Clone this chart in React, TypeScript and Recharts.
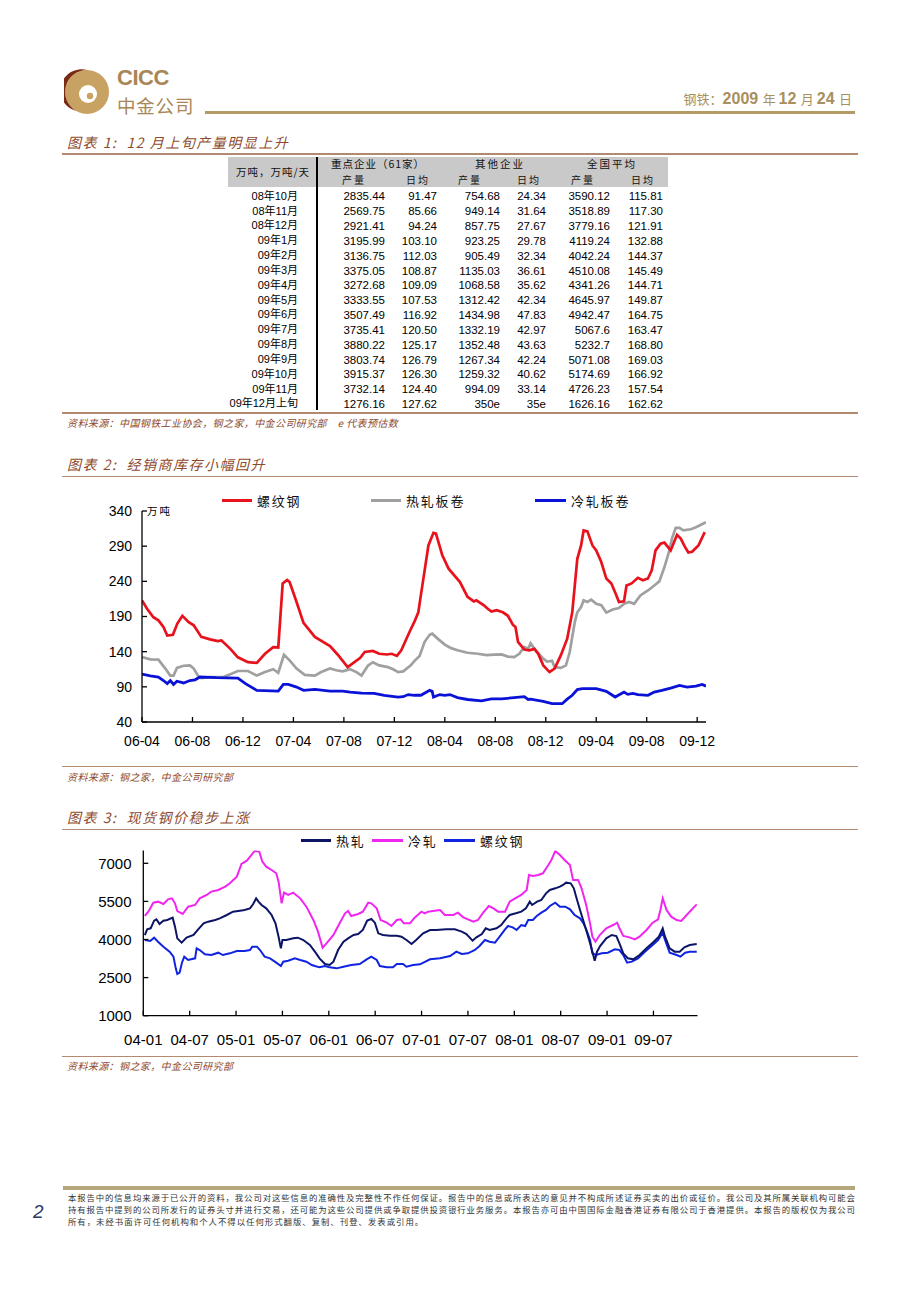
import React from "react";
import { LineChart, Line, XAxis, YAxis } from "recharts";

const SANS = '"Liberation Sans", Arial, "Noto Sans CJK SC", sans-serif';
const CJK = '"Noto Sans CJK SC", "Liberation Sans", sans-serif';
const BROWN = "#8e4a2d";
const RULE = "#b28a70";
const GOLD = "#b39b68";

// ---- table 1 (万吨, 万吨/天) ----
const rowLabels = ["08年10月", "08年11月", "08年12月", "09年1月", "09年2月", "09年3月", "09年4月", "09年5月", "09年6月", "09年7月", "09年8月", "09年9月", "09年10月", "09年11月", "09年12月上旬"];
const keyOutput = ["2835.44", "2569.75", "2921.41", "3195.99", "3136.75", "3375.05", "3272.68", "3333.55", "3507.49", "3735.41", "3880.22", "3803.74", "3915.37", "3732.14", "1276.16"];
const keyDaily = ["91.47", "85.66", "94.24", "103.10", "112.03", "108.87", "109.09", "107.53", "116.92", "120.50", "125.17", "126.79", "126.30", "124.40", "127.62"];
const otherOutput = ["754.68", "949.14", "857.75", "923.25", "905.49", "1135.03", "1068.58", "1312.42", "1434.98", "1332.19", "1352.48", "1267.34", "1259.32", "994.09", "350e"];
const otherDaily = ["24.34", "31.64", "27.67", "29.78", "32.34", "36.61", "35.62", "42.34", "47.83", "42.97", "43.63", "42.24", "40.62", "33.14", "35e"];
const natOutput = ["3590.12", "3518.89", "3779.16", "4119.24", "4042.24", "4510.08", "4341.26", "4645.97", "4942.47", "5067.6", "5232.7", "5071.08", "5174.69", "4726.23", "1626.16"];
const natDaily = ["115.81", "117.30", "121.91", "132.88", "144.37", "145.49", "144.71", "149.87", "164.75", "163.47", "168.80", "169.03", "166.92", "157.54", "162.62"];

// ---- chart 2: dealer stocks, [months since 2006-04, 万吨] ----
const stockTicks = [0, 4, 8, 12, 16, 20, 24, 28, 32, 36, 40, 44];
const stockTickLabels = ["06-04", "06-08", "06-12", "07-04", "07-08", "07-12", "08-04", "08-08", "08-12", "09-04", "09-08", "09-12"];
const stockYTicks = [40, 90, 140, 190, 240, 290, 340];

const rebarStock: [number, number][] = [
  [0, 213], [0.4, 201], [0.9, 189], [1.3, 184.5], [1.7, 175], [2.0, 163], [2.45, 164], [2.8, 180], [3.2, 191], [3.7, 182],
  [4.1, 177.5], [4.7, 161], [5.4, 157.5], [6.0, 155], [6.3, 156], [7.0, 144], [7.6, 132], [8.4, 125], [9.1, 124], [9.75, 137],
  [10.4, 146.5], [10.8, 146], [11.15, 237], [11.5, 242], [11.7, 239], [12.25, 210.6], [12.8, 181], [13.7, 161], [14.9, 148], [15.5, 136],
  [16.3, 118], [17.3, 131.4], [17.65, 139.5], [18.3, 141], [18.8, 137], [19.4, 136], [19.8, 137], [20.2, 134], [20.55, 142], [21.2, 168],
  [21.6, 183], [21.9, 196], [22.1, 220], [22.7, 291], [23.1, 309], [23.3, 308], [23.8, 277], [24.3, 258], [25.2, 239], [25.8, 218],
  [26.3, 211.5], [26.5, 213], [27.1, 206], [27.4, 201], [27.7, 197], [28.1, 199], [28.6, 196], [29.0, 191], [29.4, 178], [29.6, 175],
  [29.8, 154], [30.3, 143], [30.7, 142], [31.1, 144], [31.4, 137], [31.8, 120.5], [32.3, 111], [32.7, 116], [33.2, 135], [33.7, 158.5],
  [34.1, 196], [34.5, 272], [34.8, 291], [35.0, 312.5], [35.3, 311], [35.7, 291], [36.0, 284], [36.4, 267.5], [36.8, 244], [37.2, 237],
  [37.6, 220], [37.8, 210.6], [38.2, 211.5], [38.4, 234], [38.8, 237], [39.3, 245], [39.7, 241.5], [40.1, 244], [40.4, 255.6], [40.7, 284],
  [41.1, 293.5], [41.4, 295], [41.9, 284], [42.4, 306], [42.7, 300.7], [43.0, 290], [43.3, 281], [43.6, 282], [44.1, 291], [44.6, 310],
];

const hotStock: [number, number][] = [
  [0, 132.4], [0.66, 129], [1.3, 128.6], [1.85, 116], [2.24, 106], [2.5, 106], [2.77, 117], [3.3, 120], [3.8, 120.5], [4.1, 116],
  [4.5, 104], [4.7, 102.5], [5.4, 104], [6.45, 104], [7.0, 108], [7.6, 112.5], [8.4, 112.5], [9.1, 106], [9.75, 111], [10.4, 115],
  [10.8, 110], [11.25, 135.6], [11.7, 127.6], [12.25, 116], [12.9, 107], [13.7, 106], [14.2, 111], [14.9, 116], [15.4, 113.5], [15.9, 112],
  [16.5, 115], [17.0, 111], [17.4, 106], [17.9, 120], [18.3, 125], [18.8, 120.5], [19.5, 118], [19.9, 115], [20.3, 111], [20.7, 112],
  [21.3, 120.5], [21.6, 127], [22.0, 134], [22.4, 154], [22.8, 164], [23.0, 165.6], [23.5, 157.5], [24.0, 150], [24.5, 145], [25.0, 142],
  [25.8, 138.5], [26.6, 137], [27.3, 135], [27.9, 135.7], [28.5, 136], [29.0, 133], [29.5, 132.4], [29.9, 137], [30.3, 146.6], [30.6, 144],
  [30.8, 152], [31.1, 144], [31.3, 139.5], [31.8, 130], [32.1, 126], [32.5, 127], [32.7, 118], [33.2, 117], [33.6, 120.5], [33.9, 139.5],
  [34.3, 182], [34.5, 196], [34.8, 203.5], [35.0, 213], [35.3, 210.6], [35.6, 214], [36.0, 208], [36.4, 206], [36.8, 195.5], [37.3, 200],
  [37.8, 202], [38.2, 208], [38.6, 210.6], [39.0, 208], [39.5, 220], [40.1, 227], [40.6, 234], [41.0, 240], [41.4, 260], [41.8, 284],
  [42.0, 300.7], [42.3, 316], [42.6, 316], [42.9, 312.5], [43.5, 314], [43.9, 317], [44.3, 320.5], [44.7, 324],
];

const coldStock: [number, number][] = [
  [0, 108], [0.66, 105.5], [1.3, 104], [1.7, 99], [2.0, 94.5], [2.24, 99], [2.5, 93.5], [2.77, 98], [3.3, 95.5], [3.8, 99],
  [4.2, 100], [4.6, 104], [5.9, 103], [7.6, 102.5], [8.2, 94.5], [9.1, 85], [10.8, 84], [11.2, 93.5], [11.6, 93.5], [12.25, 89.7],
  [12.8, 85], [13.7, 86.4], [14.9, 84], [15.9, 84], [16.5, 82.6], [17.4, 81], [18.4, 80.7], [19.2, 78], [20.3, 75.5], [20.7, 76],
  [21.1, 79], [21.6, 78], [22.1, 78], [22.8, 85], [23.0, 83.6], [23.1, 75.5], [23.6, 79], [24.0, 78], [24.4, 79], [25.0, 74.6],
  [25.8, 72], [26.9, 70], [27.7, 73], [28.5, 73], [29.5, 74.6], [30.3, 76], [30.6, 72], [30.8, 72.5], [31.8, 69.3], [32.5, 66],
  [33.3, 66], [33.7, 72.5], [34.1, 78], [34.5, 86], [34.9, 87.4], [36.0, 87.4], [36.8, 83.6], [37.5, 75.5], [38.2, 82.6], [38.5, 79.3],
  [38.9, 80.7], [39.3, 79], [40.1, 78], [40.6, 82.6], [41.2, 85], [41.9, 88.3], [42.6, 92], [43.2, 89.7], [43.9, 91], [44.4, 93.5], [44.7, 91],
];

// ---- chart 3: spot prices, [months since 2004-01, 元/吨] ----
const priceTicks = [0, 6, 12, 18, 24, 30, 36, 42, 48, 54, 60, 66];
const priceTickLabels = ["04-01", "04-07", "05-01", "05-07", "06-01", "06-07", "07-01", "07-07", "08-01", "08-07", "09-01", "09-07"];
const priceYTicks = [1000, 2500, 4000, 5500, 7000];

const hotPrice: [number, number][] = [
  [0.2, 4177], [0.5, 4400], [0.95, 4440], [1.4, 4742], [1.7, 4794], [2.1, 4610], [2.6, 4742], [3.1, 4768], [3.8, 4860], [4.1, 4505],
  [4.4, 4046], [4.96, 3875], [5.6, 4072], [6.5, 4177], [7.1, 4400], [7.8, 4637], [8.4, 4702], [9.3, 4768], [9.9, 4834], [10.8, 4965],
  [11.6, 5096], [12.5, 5135], [13.1, 5162], [13.8, 5227], [14.2, 5385], [14.6, 5621], [14.9, 5490], [15.3, 5359], [15.9, 5227], [16.6, 4965],
  [17.1, 4637], [17.5, 4111], [17.8, 3652], [18.0, 3980], [18.5, 3980], [19.4, 4046], [20.0, 4072], [20.7, 3980], [21.55, 3783], [22.2, 3521],
  [22.8, 3258], [23.5, 3035], [24.1, 2995], [24.6, 3127], [25.2, 3586], [25.9, 3914], [26.5, 4046], [27.2, 4177], [27.8, 4216], [28.4, 4374],
  [28.97, 4742], [29.5, 4807], [29.96, 4663], [30.4, 4243], [31.0, 4177], [31.9, 4151], [32.8, 4151], [33.4, 4111], [34.05, 3980], [34.7, 3822],
  [35.3, 3980], [36.2, 4243], [37.1, 4374], [37.9, 4374], [39.2, 4400], [40.3, 4400], [41.2, 4308], [41.8, 4216], [42.6, 3954], [43.1, 4085],
  [43.8, 4216], [44.3, 4440], [44.8, 4374], [45.7, 4440], [46.3, 4571], [46.98, 4834], [47.4, 4965], [48.2, 5031], [48.9, 5096], [49.5, 5227],
  [50.0, 5490], [50.3, 5359], [50.95, 5490], [51.5, 5556], [52.1, 5818], [52.6, 5950], [53.3, 6015], [53.9, 6081], [54.3, 6147], [54.7, 6238],
  [55.3, 6212], [55.7, 6015], [56.0, 5687], [56.5, 5162], [56.9, 4768], [57.3, 4374], [57.8, 3849], [58.1, 3521], [58.4, 3166], [58.7, 3521],
  [59.1, 3744], [59.9, 4046], [60.6, 4177], [61.2, 4138], [61.6, 3849], [62.1, 3455], [62.7, 3258], [63.4, 3219], [64.2, 3389], [65.1, 3652],
  [65.9, 3875], [66.7, 4111], [67.2, 4440], [67.5, 4111], [68.1, 3652], [68.75, 3521], [69.4, 3521], [70.0, 3691], [70.7, 3783], [71.6, 3822],
];

const coldPrice: [number, number][] = [
  [0.2, 4926], [0.65, 5096], [1.3, 5450], [1.9, 5490], [2.6, 5398], [3.2, 5582], [3.7, 5621], [4.1, 5424], [4.4, 5122], [5.1, 5004],
  [5.8, 5293], [6.7, 5359], [7.3, 5621], [8.2, 5753], [8.8, 5884], [9.7, 5950], [10.6, 6081], [11.2, 6212], [12.1, 6475], [12.7, 6974],
  [13.4, 7105], [14.0, 7328], [14.4, 7486], [15.0, 7460], [15.4, 7066], [15.9, 6869], [16.6, 6737], [17.2, 6606], [17.5, 6278], [17.9, 5424],
  [18.2, 5845], [18.75, 5753], [19.4, 5845], [20.3, 5621], [21.1, 5293], [22.0, 4768], [22.6, 4308], [23.2, 3678], [23.7, 3849], [24.6, 4177],
  [25.4, 4637], [26.1, 5031], [26.5, 5122], [26.9, 4926], [27.8, 5004], [28.4, 5096], [29.1, 5450], [29.5, 5424], [30.2, 5227], [30.7, 4768],
  [31.5, 4663], [32.1, 4532], [32.8, 4768], [33.3, 4794], [33.7, 4637], [34.5, 4637], [35.1, 4860], [35.99, 5096], [36.4, 5031], [36.85, 5096],
  [37.7, 5135], [38.4, 5162], [39.0, 4965], [40.1, 4965], [40.7, 5057], [41.4, 4873], [42.7, 4702], [43.3, 4768], [43.97, 5057], [44.7, 5319],
  [45.3, 5227], [45.9, 5096], [46.8, 5096], [47.4, 5490], [48.1, 5621], [48.9, 5753], [49.6, 5950], [49.9, 6540], [50.4, 6501], [51.1, 6540],
  [51.7, 6606], [52.4, 6934], [52.8, 7131], [53.3, 7486], [53.9, 7328], [54.5, 7131], [55.2, 6934], [55.6, 6344], [56.25, 6344], [56.7, 6015],
  [57.3, 5359], [57.8, 4637], [58.1, 4111], [58.5, 3914], [59.05, 4177], [59.9, 4440], [60.8, 4571], [61.3, 4663], [61.6, 4440], [62.1, 4138],
  [62.9, 4085], [63.6, 4006], [64.2, 4111], [65.1, 4374], [65.9, 4663], [66.6, 4794], [66.9, 5162], [67.2, 5621], [67.7, 5162], [68.3, 4900],
  [69.0, 4768], [69.6, 4729], [70.3, 4965], [71.1, 5227], [71.6, 5385],
];

const rebarPrice: [number, number][] = [
  [0.2, 3980], [0.9, 3941], [1.4, 4072], [1.9, 3914], [2.6, 3717], [3.4, 3521], [3.9, 3324], [4.2, 2864], [4.4, 2641], [4.7, 2694],
  [5.0, 3087], [5.3, 3324], [5.8, 3192], [6.7, 3258], [6.9, 3652], [7.3, 3586], [7.97, 3415], [8.8, 3389], [9.7, 3481], [10.3, 3389],
  [11.2, 3455], [12.1, 3547], [13.1, 3547], [13.8, 3586], [14.1, 3717], [14.7, 3717], [15.1, 3586], [15.7, 3324], [16.4, 3258], [17.2, 3087],
  [17.8, 2956], [18.1, 3127], [18.75, 3166], [19.6, 3258], [20.3, 3192], [21.1, 3127], [21.8, 2995], [22.2, 2956], [22.8, 2904], [23.5, 2956],
  [24.1, 2904], [25.0, 2864], [25.9, 2930], [26.9, 2995], [28.0, 3035], [28.9, 3219], [29.5, 3324], [30.2, 3192], [30.6, 2956], [31.5, 2904],
  [32.3, 2904], [32.8, 3035], [33.6, 3035], [34.05, 2930], [34.9, 2995], [35.8, 3022], [37.1, 3219], [38.4, 3258], [39.7, 3350], [40.5, 3521],
  [41.2, 3429], [42.0, 3455], [42.9, 3586], [43.5, 3744], [44.2, 3980], [44.8, 3914], [45.5, 3875], [46.1, 4111], [46.8, 4400], [47.2, 4532],
  [47.8, 4479], [48.3, 4374], [48.9, 4571], [49.4, 4532], [49.8, 4768], [50.4, 4768], [50.9, 4926], [51.5, 5057], [52.1, 5162], [52.6, 5319],
  [53.3, 5450], [53.9, 5293], [54.6, 5293], [55.2, 5188], [55.8, 4965], [56.5, 4834], [56.9, 4663], [57.3, 4400], [57.8, 3980], [58.1, 3455],
  [58.6, 3389], [59.3, 3455], [60.1, 3481], [61.0, 3612], [61.6, 3586], [62.1, 3389], [62.6, 3087], [63.2, 3127], [64.0, 3258], [64.9, 3521],
  [65.75, 3744], [66.6, 3980], [67.2, 4269], [67.5, 3980], [68.1, 3481], [69.0, 3389], [69.5, 3324], [70.1, 3481], [70.7, 3521], [71.6, 3521],
];

const disclaimer = [
  "本报告中的信息均来源于已公开的资料，我公司对这些信息的准确性及完整性不作任何保证。报告中的信息或所表达的意见并不构成所述证券买卖的出价或征价。我公司及其所属关联机构可能会",
  "持有报告中提到的公司所发行的证券头寸并进行交易，还可能为这些公司提供或争取提供投资银行业务服务。本报告亦可由中国国际金融香港证券有限公司于香港提供。本报告的版权仅为我公司",
  "所有，未经书面许可任何机构和个人不得以任何形式翻版、复制、刊登、发表或引用。",
];

const toRows = (pairs: [number, number][]) => pairs.map(([m, v]) => ({ m, v }));

const abs = (left: number, top: number, extra: React.CSSProperties = {}): React.CSSProperties => ({
  position: "absolute",
  left,
  top,
  ...extra,
});

function Rule({ top, color = RULE, h = 1.5, left = 62, width = 796 }: { top: number; color?: string; h?: number; left?: number; width?: number }) {
  return <div style={abs(left, top, { width, height: h, background: color })} />;
}

function Caption({ top, text, size = 14 }: { top: number; text: string; size?: number }) {
  return (
    <div style={abs(67, top - size * 0.72, { fontFamily: CJK, fontStyle: "italic", fontSize: size, color: BROWN, letterSpacing: size > 12 ? 1.5 : 0.4, whiteSpace: "pre", lineHeight: 1.4 })}>
      {text}
    </div>
  );
}

function Cell({ right, y, text, size = 11.5, family = SANS, spacing = 0 }: { right: number; y: number; text: string; size?: number; family?: string; spacing?: number }) {
  return (
    <div style={abs(right - 200, y - size * 0.7, { width: 200, textAlign: "right", fontFamily: family, fontSize: size, lineHeight: 1.4, letterSpacing: spacing, whiteSpace: "pre", color: "#000" })}>
      {text}
    </div>
  );
}

function Center({ cx, y, text, size = 10.5, spacing = 1 }: { cx: number; y: number; text: string; size?: number; spacing?: number }) {
  return (
    <div style={abs(cx - 100, y - size * 0.72, { width: 200, textAlign: "center", fontFamily: CJK, fontSize: size, lineHeight: 1.4, letterSpacing: spacing, whiteSpace: "pre", color: "#111" })}>
      {text}
    </div>
  );
}

function OutputTable() {
  const cols = [keyOutput, keyDaily, otherOutput, otherDaily, natOutput, natDaily];
  const rights = [385, 437, 500, 546, 610, 663];
  return (
    <>
      <div style={abs(228, 157, { width: 440, height: 30, background: "#c9c9c9" })} />
      <div style={abs(315.5, 157, { width: 2, height: 253, background: "#000" })} />
      <Center cx={273} y={172.5} text="万吨，万吨/天" />
      <Center cx={378} y={164.5} text="重点企业（61家）" />
      <Center cx={500} y={164.5} text="其他企业" spacing={2} />
      <Center cx={612} y={164.5} text="全国平均" spacing={2} />
      {["产量", "日均", "产量", "日均", "产量", "日均"].map((t, i) => (
        <Center key={i} cx={[354, 418, 470, 529, 583, 643][i]} y={180} text={t} size={10} spacing={2} />
      ))}
      {rowLabels.map((label, r) => {
        const y = 196.5 + r * 14.83;
        return (
          <React.Fragment key={label}>
            <Cell right={298} y={y} text={label} size={11} />
            {cols.map((col, c) => (
              <Cell key={c} right={rights[c]} y={y} text={col[r]} />
            ))}
          </React.Fragment>
        );
      })}
    </>
  );
}

function LegendItem({ left, top, color, text, lineW = 30 }: { left: number; top: number; color: string; text: string; lineW?: number }) {
  return (
    <div style={abs(left, top - 9, { display: "flex", alignItems: "center", height: 18, whiteSpace: "pre" })}>
      <div style={{ width: lineW, height: 3, background: color, marginRight: 5 }} />
      <span style={{ fontFamily: CJK, fontSize: 13, letterSpacing: 1.8, color: "#111" }}>{text}</span>
    </div>
  );
}

const axisTick = (size: number) => ({ fill: "#000", fontSize: size, fontFamily: SANS });

function StockChart() {
  return (
    <LineChart width={660} height={285} margin={{ top: 31, right: 14, bottom: 13, left: 22 }}>
      <XAxis
        type="number"
        dataKey="m"
        domain={[0, 44.7]}
        ticks={stockTicks}
        interval={0}
        allowDataOverflow
        tickFormatter={(v: number) => stockTickLabels[stockTicks.indexOf(v)] ?? ""}
        tickSize={-5}
        tickMargin={19}
        height={30}
        stroke="#000"
        strokeWidth={1.3}
        tick={axisTick(14)}
      />
      <YAxis
        type="number"
        domain={[40, 340]}
        ticks={stockYTicks}
        interval={0}
        allowDataOverflow
        tickSize={-5}
        tickMargin={15}
        width={60}
        stroke="#000"
        strokeWidth={1.3}
        tick={axisTick(14)}
      />
      <Line data={toRows(hotStock)} dataKey="v" type="linear" stroke="#a0a0a0" strokeWidth={2.7} dot={false} isAnimationActive={false} />
      <Line data={toRows(coldStock)} dataKey="v" type="linear" stroke="#0a12d8" strokeWidth={2.8} dot={false} isAnimationActive={false} />
      <Line data={toRows(rebarStock)} dataKey="v" type="linear" stroke="#e8121c" strokeWidth={2.7} dot={false} isAnimationActive={false} />
    </LineChart>
  );
}

function PriceChart() {
  return (
    <LineChart width={660} height={230} margin={{ top: 15.6, right: 22.5, bottom: 19.3, left: 23.3 }}>
      <XAxis
        type="number"
        dataKey="m"
        domain={[0, 71.7]}
        ticks={priceTicks}
        interval={0}
        allowDataOverflow
        tickFormatter={(v: number) => priceTickLabels[priceTicks.indexOf(v)] ?? ""}
        tickSize={-5}
        tickMargin={24}
        height={30}
        stroke="#000"
        strokeWidth={1.3}
        tick={axisTick(15)}
      />
      <YAxis
        type="number"
        domain={[1000, 7500]}
        ticks={priceYTicks}
        interval={0}
        allowDataOverflow
        tickSize={-5}
        tickMargin={16.8}
        width={60}
        stroke="#000"
        strokeWidth={1.3}
        tick={axisTick(15)}
      />
      <Line data={toRows(coldPrice)} dataKey="v" type="linear" stroke="#f026f0" strokeWidth={2} dot={false} isAnimationActive={false} />
      <Line data={toRows(rebarPrice)} dataKey="v" type="linear" stroke="#1024e0" strokeWidth={2} dot={false} isAnimationActive={false} />
      <Line data={toRows(hotPrice)} dataKey="v" type="linear" stroke="#0c1466" strokeWidth={2} dot={false} isAnimationActive={false} />
    </LineChart>
  );
}

function Logo() {
  return (
    <svg width={46} height={46} viewBox="0 0 46 46" style={abs(64, 69)}>
      <circle cx={23} cy={23} r={22} fill="#c8a262" />
      <path d="M23 1 A22 22 0 0 0 23 45 A17 17 0 0 1 23 1 Z" fill="#8c3516" />
      <path d="M23 1 A22 22 0 0 0 12 42 A19 19 0 0 1 23 1 Z" fill="#7a2a10" />
      <circle cx={24} cy={25} r={9} fill="#fff" />
      <path d="M24 16 A9 9 0 0 0 24 34 A6 6 0 0 1 24 16 Z" fill="#8c3516" />
      <circle cx={26} cy={27} r={3.2} fill="#c8a262" />
    </svg>
  );
}

export default function App() {
  return (
    <div style={{ position: "absolute", left: 0, top: 0, width: 920, height: 1302, background: "#fff", overflow: "hidden" }}>
      {/* header */}
      <Logo />
      <div style={abs(117, 67, { fontFamily: SANS, fontWeight: 700, fontSize: 22, color: "#a98655", letterSpacing: -0.5, lineHeight: 1 })}>CICC</div>
      <div style={abs(117, 96, { fontFamily: CJK, fontSize: 18.5, color: "#a98655", letterSpacing: 0.8, lineHeight: 1 })}>中金公司</div>
      <Rule top={111} left={205} width={650} h={3} color={GOLD} />
      <div style={abs(552, 89, { width: 300, textAlign: "right", color: "#a8905e", whiteSpace: "pre", lineHeight: 1.2 })}>
        <span style={{ fontFamily: CJK, fontSize: 13 }}>钢铁：</span>
        <span style={{ fontFamily: SANS, fontSize: 16, fontWeight: 700 }}>2009 </span>
        <span style={{ fontFamily: CJK, fontSize: 13 }}>年 </span>
        <span style={{ fontFamily: SANS, fontSize: 16, fontWeight: 700 }}>12 </span>
        <span style={{ fontFamily: CJK, fontSize: 13 }}>月 </span>
        <span style={{ fontFamily: SANS, fontSize: 16, fontWeight: 700 }}>24 </span>
        <span style={{ fontFamily: CJK, fontSize: 13 }}>日</span>
      </div>

      {/* figure 1 */}
      <Caption top={143.5} text="图表 1:  12 月上旬产量明显上升" />
      <Rule top={153} />
      <OutputTable />
      <Rule top={412} />
      <Caption top={423} size={10} text="资料来源：中国钢铁工业协会，钢之家，中金公司研究部    e 代表预估数" />

      {/* figure 2 */}
      <Caption top={465} text="图表 2:  经销商库存小幅回升" />
      <Rule top={475.5} />
      <LegendItem left={222} top={500} color="#e8121c" text="螺纹钢" />
      <LegendItem left={371} top={500} color="#a0a0a0" text="热轧板卷" />
      <LegendItem left={535} top={500} color="#0a12d8" text="冷轧板卷" lineW={31} />
      <div style={abs(147, 505, { fontFamily: CJK, fontSize: 10.5, letterSpacing: 2, lineHeight: 1.2 })}>万吨</div>
      <div style={abs(60, 480)}>
        <StockChart />
      </div>
      <Rule top={765.5} />
      <Caption top={777} size={10} text="资料来源：钢之家，中金公司研究部" />

      {/* figure 3 */}
      <Caption top={818.5} text="图表 3:  现货钢价稳步上涨" />
      <Rule top={828.5} />
      <div style={abs(60, 835)}>
        <PriceChart />
      </div>
      <LegendItem left={301} top={840.5} color="#0c1466" text="热轧" />
      <LegendItem left={372} top={840.5} color="#f026f0" text="冷轧" lineW={31} />
      <LegendItem left={444} top={840.5} color="#1024e0" text="螺纹钢" lineW={31} />
      <Rule top={1055.5} />
      <Caption top={1066} size={10} text="资料来源：钢之家，中金公司研究部" />

      {/* footer */}
      <Rule top={1186} left={63} width={792} h={4} color="#b5a67c" />
      <div style={abs(33, 1201, { fontFamily: SANS, fontStyle: "italic", fontSize: 19, color: "#2d3b66", lineHeight: 1.2 })}>2</div>
      {disclaimer.map((line, i) => (
        <div
          key={i}
          style={abs(68, 1192 + i * 12, {
            width: i < 2 ? 787 : undefined,
            fontFamily: CJK,
            fontSize: 8.4,
            lineHeight: 1.2,
            color: "#333",
            textAlign: "justify",
            textAlignLast: i < 2 ? "justify" : "auto",
            letterSpacing: i < 2 ? 0 : 1,
            whiteSpace: i < 2 ? "normal" : "pre",
          })}
        >
          {line}
        </div>
      ))}
    </div>
  );
}
